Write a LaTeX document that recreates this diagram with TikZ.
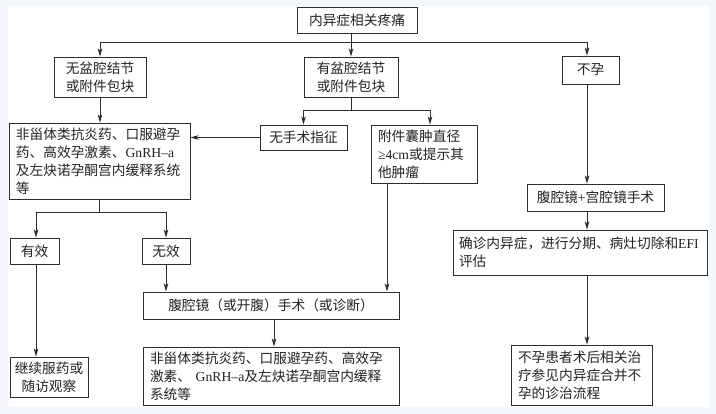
\documentclass[tikz,border=0pt]{standalone}
\usepackage{fontspec}
\newfontfamily\cjk{Noto Sans CJK SC}
\newfontfamily\lat{Liberation Serif}
\usetikzlibrary{arrows.meta}
\definecolor{bgc}{RGB}{244,247,251}
\definecolor{lc}{RGB}{45,45,45}
\definecolor{tc}{RGB}{35,35,35}
\begin{document}
\begin{tikzpicture}[x=1pt,y=-1pt,
  box/.style={draw=lc, line width=0.9pt, fill=white, rectangle, inner sep=0pt, text=tc,
    font=\cjk\fontsize{13.7}{18}\selectfont, align=center},
  lbox/.style={box, align=left, inner xsep=7pt},
  arr/.style={draw=lc, line width=0.9pt, -{Stealth[length=8pt,width=4.5pt,inset=2pt]}},
  ln/.style={draw=lc, line width=0.9pt}]
\fill[bgc] (0,0) rectangle (716,414);
\fill[white] (8,6) rectangle (709,407);
\path[use as bounding box] (0,0) rectangle (716,414);

\node[box, minimum width=120pt, minimum height=26pt] (top) at (357,20) {内异症相关疼痛};
\node[box, minimum width=92pt, minimum height=40pt] (n1) at (100,77) {无盆腔结节\\或附件包块};
\node[box, minimum width=94pt, minimum height=40pt] (n2) at (351,77) {有盆腔结节\\或附件包块};
\node[box, minimum width=57pt, minimum height=28pt] (n3) at (590.5,70) {不孕};
\node[lbox, text width=167pt, minimum height=76pt] (n4) at (99.5,161) {非甾体类抗炎药、口服避孕\\药、高效孕激素、{\lat GnRH–a}\\及左炔诺孕酮宫内缓释系统\\等};
\node[box, minimum width=87pt, minimum height=25pt] (n5) at (303.5,137.5) {无手术指征};
\node[lbox, text width=92pt, minimum height=58pt] (n6) at (424,154) {附件囊肿直径\\{\lat ≥4cm}或提示其\\他肿瘤};
\node[box, minimum width=137pt, minimum height=27pt] (lap2) at (595.5,197.5) {腹腔镜{\lat +}宫腔镜手术};
\node[lbox, inner xsep=6pt, text width=242pt, minimum height=45pt] (diag) at (580,252.5) {确诊内异症，进行分期、病灶切除和{\lat EFI}\\评估};
\node[lbox, text width=127pt, minimum height=60pt] (inf) at (581.5,375) {不孕患者术后相关治\\疗参见内异症合并不\\孕的诊治流程};
\node[box, minimum width=49pt, minimum height=26pt] (yes) at (34.5,251) {有效};
\node[box, minimum width=48pt, minimum height=26pt] (no) at (166,251) {无效};
\node[box, minimum width=78pt, minimum height=40pt] (cont) at (49,377) {继续服药或\\随访观察};
\node[box, minimum width=256pt, minimum height=27pt] (lap1) at (271,305.5) {腹腔镜（或开腹）手术（或诊断）};
\node[lbox, text width=242pt, minimum height=58pt] (med2) at (271,376) {非甾体类抗炎药、口服避孕药、高效孕\\激素、 {\lat GnRH–a}及左炔诺孕酮宫内缓释\\系统等};

\coordinate (j1) at (351,42);
\coordinate (sp) at (587,0);
\coordinate (j2) at (351,110);
\coordinate (c430) at (430,0);
\coordinate (c387) at (387,0);
\coordinate (j3) at (99.5,212);
\coordinate (c36) at (36,0);
\coordinate (c274) at (274,0);

\draw[ln] (top.south -| j1) -- (j1);
\draw[arr] (j1) -| (n1);
\draw[arr] (j1) -- (n2);
\draw[arr] (j1) -| (n3.north -| sp);
\draw[arr] (n1.south) -- (n1.south |- n4.north);
\draw[ln] (n2.south) -- (j2);
\draw[arr] (j2) -| (n5);
\draw[arr] (j2) -| (n6.north -| c430);
\draw[arr] (n5.west) -- (n5.west -| n4.east);
\draw[arr] (n6.south -| c387) -- (lap1.north -| c387);
\draw[arr] (n3.south -| sp) -- (lap2.north -| sp);
\draw[arr] (lap2.south -| sp) -- (diag.north -| sp);
\draw[arr] (diag.south -| sp) -- (inf.north -| sp);
\draw[ln] (n4.south) -- (j3);
\draw[arr] (j3) -| (yes.north -| c36);
\draw[arr] (j3) -| (no);
\draw[arr] (yes.south -| c36) -- (cont.north -| c36);
\draw[arr] (no.south) -- (no.south |- lap1.north);
\draw[arr] (lap1.south -| c274) -- (med2.north -| c274);
\end{tikzpicture}
\end{document}
